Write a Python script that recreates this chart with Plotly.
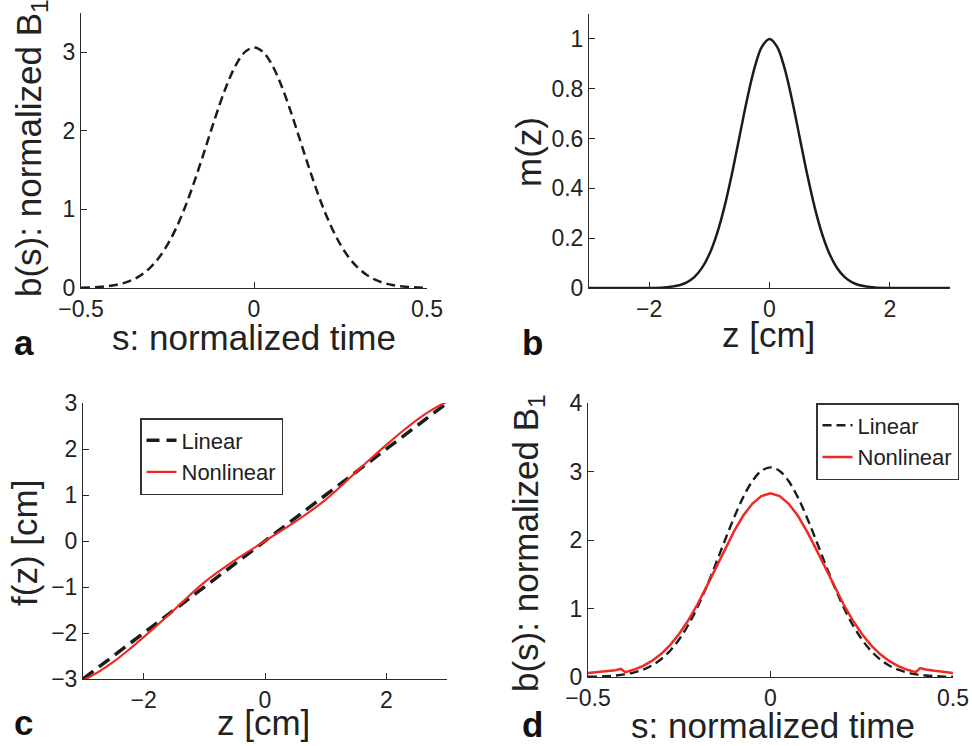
import plotly.graph_objects as go

# ---------------- data ----------------
# panel a / d : linear design, b(s) vs normalized time
S_LIN = [-0.5, -0.475, -0.45, -0.425, -0.4, -0.375, -0.35, -0.325, -0.3, -0.275,
         -0.25, -0.225, -0.2, -0.175, -0.15, -0.125, -0.1, -0.075, -0.05, -0.025,
         0.0, 0.025, 0.05, 0.075, 0.1, 0.125, 0.15, 0.175, 0.2, 0.225,
         0.25, 0.275, 0.3, 0.325, 0.35, 0.375, 0.4, 0.425, 0.45, 0.475, 0.5]
B_LIN = [0.003, 0.006, 0.012, 0.022, 0.038, 0.065, 0.106, 0.169, 0.259, 0.384,
         0.551, 0.763, 1.021, 1.321, 1.651, 1.993, 2.326, 2.622, 2.857, 3.008,
         3.06, 3.008, 2.857, 2.622, 2.326, 1.993, 1.651, 1.321, 1.021, 0.763,
         0.551, 0.384, 0.259, 0.169, 0.106, 0.065, 0.038, 0.022, 0.012, 0.006, 0.003]

# panel d : nonlinear design
S_NL = [-0.5, -0.475, -0.45, -0.425, -0.41, -0.398, -0.375, -0.35, -0.325, -0.3,
        -0.275, -0.25, -0.225, -0.2, -0.175, -0.15, -0.125, -0.1, -0.075, -0.05,
        -0.025, 0.0, 0.025, 0.05, 0.075, 0.1, 0.125, 0.15, 0.175, 0.2,
        0.225, 0.25, 0.275, 0.3, 0.325, 0.35, 0.375, 0.398, 0.41, 0.425,
        0.45, 0.475, 0.5]
B_NL = [0.06, 0.07, 0.085, 0.10, 0.12, 0.07, 0.105, 0.16, 0.235, 0.335,
        0.466, 0.631, 0.830, 1.062, 1.319, 1.592, 1.867, 2.126, 2.353, 2.529,
        2.641, 2.68, 2.641, 2.529, 2.353, 2.126, 1.867, 1.592, 1.319, 1.062,
        0.830, 0.631, 0.466, 0.335, 0.235, 0.16, 0.105, 0.07, 0.13, 0.11,
        0.09, 0.075, 0.06]

# panel b : target profile m(z)
Z_B = [-3.0, -2.75, -2.5, -2.25, -2.0, -1.75, -1.5, -1.375, -1.25, -1.125,
       -1.0, -0.875, -0.75, -0.625, -0.5, -0.375, -0.25, -0.125, 0.0,
       0.125, 0.25, 0.375, 0.5, 0.625, 0.75, 0.875, 1.0, 1.125, 1.25,
       1.375, 1.5, 1.75, 2.0, 2.25, 2.5, 2.75, 3.0]
M_Z = [0.0, 0.0, 0.0, 0.0, 0.0003, 0.0022, 0.0111, 0.0228, 0.0439, 0.0796,
       0.1353, 0.2163, 0.3247, 0.4578, 0.6065, 0.7548, 0.8825, 0.9692, 1.0,
       0.9692, 0.8825, 0.7548, 0.6065, 0.4578, 0.3247, 0.2163, 0.1353, 0.0796, 0.0439,
       0.0228, 0.0111, 0.0022, 0.0003, 0.0, 0.0, 0.0, 0.0]

# panel c : field mapping f(z)
Z_C_LIN = [-3.0, 3.0]
F_C_LIN = [-3.0, 3.0]
Z_C = [-3.0, -2.75, -2.5, -2.25, -2.0, -1.75, -1.5, -1.25, -1.0, -0.75, -0.5, -0.25,
       0.0, 0.25, 0.5, 0.75, 1.0, 1.25, 1.5, 1.75, 2.0, 2.25, 2.5, 2.75, 3.0]
F_C = [-3.03, -2.85, -2.63, -2.37, -2.09, -1.80, -1.50, -1.19, -0.90, -0.65, -0.42, -0.21,
       0.0, 0.21, 0.42, 0.65, 0.90, 1.19, 1.50, 1.80, 2.09, 2.37, 2.63, 2.85, 3.03]

# tick labels
TICKS_S = [-0.5, 0, 0.5]
TICKS_S_TEXT = ["\u22120.5", "0", "0.5"]
TICKS_Z = [-2, 0, 2]
TICKS_Z_TEXT = ["\u22122", "0", "2"]

# axis titles
B1 = "b(s): normalized B<sub>1</sub>"
TITLE_S = "s: normalized time"
TITLE_Z = "z [cm]"
TITLE_M = "m(z)"
TITLE_F = "f(z) [cm]"

# ---------------- figure ----------------
FONT = "Liberation Sans, Arial, Helvetica, sans-serif"
TXT = "#222222"
AX = "#2a2a2a"
RED = "#ee2a24"
BLK = "#1c1c1c"

fig = go.Figure()

fig.add_trace(go.Scatter(x=S_LIN, y=B_LIN, mode="lines", xaxis="x", yaxis="y",
                         line=dict(color=BLK, width=2.5, dash="9px,5px", shape="spline"),
                         showlegend=False))
fig.add_trace(go.Scatter(x=Z_B, y=M_Z, mode="lines", xaxis="x2", yaxis="y2",
                         line=dict(color=BLK, width=2.5, shape="spline"),
                         showlegend=False))
fig.add_trace(go.Scatter(x=Z_C_LIN, y=F_C_LIN, mode="lines", xaxis="x3", yaxis="y3",
                         name="Linear", legend="legend",
                         line=dict(color=BLK, width=3.5, dash="13px,7px")))
fig.add_trace(go.Scatter(x=Z_C, y=F_C, mode="lines", xaxis="x3", yaxis="y3",
                         name="Nonlinear", legend="legend",
                         line=dict(color=RED, width=2.2, shape="spline")))
fig.add_trace(go.Scatter(x=S_LIN, y=B_LIN, mode="lines", xaxis="x4", yaxis="y4",
                         name="Linear", legend="legend2",
                         line=dict(color=BLK, width=2.4, dash="9px,5px", shape="spline")))
fig.add_trace(go.Scatter(x=S_NL, y=B_NL, mode="lines", xaxis="x4", yaxis="y4",
                         name="Nonlinear", legend="legend2",
                         line=dict(color=RED, width=2.5)))

W, H = 972, 746


def dom_x(a, b):
    return [a / W, b / W]


def dom_y(top, bottom):
    return [(H - bottom) / H, (H - top) / H]


def axis(domain, rng, anchor, tickvals, ticktext):
    return dict(domain=domain, range=rng, anchor=anchor, showline=True, linecolor=AX, linewidth=1,
                mirror=False, showgrid=False, zeroline=False, ticks="inside", ticklen=6,
                tickwidth=1, tickcolor=AX, tickfont=dict(family=FONT, size=23, color=TXT),
                tickmode="array", tickvals=tickvals, ticktext=ticktext,
                automargin=False, fixedrange=True)


fig.update_layout(
    template="none",
    width=W, height=H, margin=dict(l=0, r=0, t=0, b=0),
    paper_bgcolor="white", plot_bgcolor="white",
    font=dict(family=FONT, color=TXT),
    xaxis=axis(dom_x(81, 427), [-0.5, 0.5], "y", TICKS_S, TICKS_S_TEXT),
    yaxis=axis(dom_y(13, 288), [0, 3.5], "x", [0, 1, 2, 3], ["0", "1", "2", "3"]),
    xaxis2=axis(dom_x(589, 950), [-3, 3], "y2", TICKS_Z, TICKS_Z_TEXT),
    yaxis2=axis(dom_y(14, 288), [0, 1.1], "x2",
                [0, 0.2, 0.4, 0.6, 0.8, 1], ["0", "0.2", "0.4", "0.6", "0.8", "1"]),
    xaxis3=axis(dom_x(83, 447), [-3, 3], "y3", TICKS_Z, TICKS_Z_TEXT),
    yaxis3=axis(dom_y(403, 679), [-3, 3], "x3",
                [-3, -2, -1, 0, 1, 2, 3], ["\u22123", "\u22122", "\u22121", "0", "1", "2", "3"]),
    xaxis4=axis(dom_x(588, 953), [-0.5, 0.5], "y4", TICKS_S, TICKS_S_TEXT),
    yaxis4=axis(dom_y(403, 677), [0, 4], "x4", [0, 1, 2, 3, 4], ["0", "1", "2", "3", "4"]),
    legend=dict(x=140 / W, y=(H - 418) / H, xanchor="left", yanchor="top",
                bordercolor="#333333", borderwidth=1.5, bgcolor="white",
                font=dict(family=FONT, size=22, color=TXT), tracegroupgap=0),
    legend2=dict(x=816 / W, y=(H - 403) / H, xanchor="left", yanchor="top",
                 bordercolor="#333333", borderwidth=1.5, bgcolor="white",
                 font=dict(family=FONT, size=22, color=TXT), tracegroupgap=0),
)

# axis titles (text, x px, y px, rotated)
titles = [
    (TITLE_S, 254, 337, False), (B1, 31, 148, True),
    (TITLE_Z, 768, 334, False), (TITLE_M, 528, 152, True),
    (TITLE_Z, 263, 722, False), (TITLE_F, 24, 543, True),
    (TITLE_S, 773, 725, False), (B1, 528, 543, True),
]
for t, px, py, rot in titles:
    fig.add_annotation(text=t, xref="paper", yref="paper", x=px / W, y=(H - py) / H,
                       xanchor="center", yanchor="middle", showarrow=False,
                       textangle=-90 if rot else 0,
                       font=dict(family=FONT, size=35, color=TXT))

labels = [("a", 12, 342), ("b", 520, 342), ("c", 12, 722), ("d", 520, 724)]
for t, px, py in labels:
    fig.add_annotation(text="<b>%s</b>" % t, xref="paper", yref="paper", x=px / W, y=(H - py) / H,
                       xanchor="left", yanchor="middle", showarrow=False,
                       font=dict(family=FONT, size=35, color="#111111"))

fig.write_html("out.html")
